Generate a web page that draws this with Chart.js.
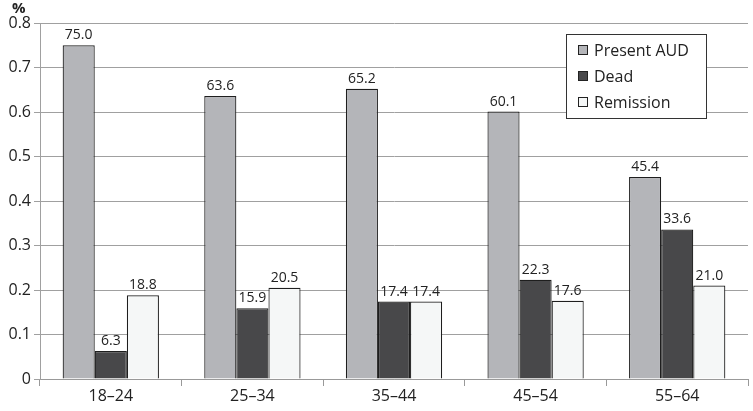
<!DOCTYPE html>
<html>
<head>
<meta charset="utf-8">
<script src="https://cdn.jsdelivr.net/npm/chart.js@4.4.1/dist/chart.umd.min.js"></script>
<style>
  html, body { margin: 0; padding: 0; background: #fff; }
  #wrap { width: 753px; height: 411px; position: relative; }
</style>
</head>
<body>
<div id="wrap"><canvas id="c"></canvas></div>
<script>
// 데이터
const categories = ['18–24', '25–34', '35–44', '45–54', '55–64'];
const presentAUD = [0.750, 0.636, 0.652, 0.601, 0.454];
const dead = [0.063, 0.159, 0.174, 0.223, 0.336];
const remission = [0.188, 0.205, 0.174, 0.176, 0.210];
const yTicks = [0, 0.1, 0.2, 0.3, 0.4, 0.5, 0.6, 0.7, 0.8];

const FONT = '"Open Sans", "Noto Sans", sans-serif';

// 막대 위 값 표시
const valueLabels = {
    id: 'valueLabels',
    afterDatasetsDraw(chart) {
        const ctx = chart.ctx;
        ctx.save();
        ctx.font = '14px ' + FONT;
        ctx.fillStyle = '#222';
        ctx.textAlign = 'center';
        ctx.textBaseline = 'bottom';
        chart.data.datasets.forEach((ds, di) => {
            chart.getDatasetMeta(di).data.forEach((bar, i) => {
                ctx.fillText((ds.data[i] * 100).toFixed(1), bar.x, bar.y - 3);
            });
        });
        ctx.restore();
    }
};

// 범례 박스 (차트 안쪽 우측 상단)
const boxLegend = {
    id: 'boxLegend',
    afterDraw(chart) {
        const ctx = chart.ctx;
        const x = 566, y = 34, w = 140, h = 84;
        ctx.save();
        ctx.fillStyle = '#fff';
        ctx.fillRect(x, y, w, h);
        ctx.strokeStyle = '#333';
        ctx.lineWidth = 1;
        ctx.strokeRect(x + 0.5, y + 0.5, w, h);
        ctx.font = '16px ' + FONT;
        ctx.textBaseline = 'middle';
        chart.data.datasets.forEach((ds, i) => {
            const cy = y + 16 + i * 26;
            ctx.fillStyle = ds.backgroundColor;
            ctx.fillRect(x + 12, cy - 5, 10, 10);
            ctx.strokeStyle = '#222';
            ctx.strokeRect(x + 12.5, cy - 4.5, 9, 9);
            ctx.fillStyle = '#222';
            ctx.textAlign = 'left';
            ctx.fillText(ds.label, x + 28, cy + 1);
        });
        // % 표시
        ctx.font = 'bold 15px ' + FONT;
        ctx.textAlign = 'left';
        ctx.fillText('%', 12, 9);
        ctx.restore();
    }
};

new Chart(document.getElementById('c'), {
    type: 'bar',
    data: {
        labels: categories,
        datasets: [
            { label: 'Present AUD', data: presentAUD, backgroundColor: '#b4b5b9' },
            { label: 'Dead', data: dead, backgroundColor: '#48484a' },
            { label: 'Remission', data: remission, backgroundColor: '#f5f7f7' }
        ].map(d => Object.assign(d, {
            borderColor: '#1e1e1e',
            borderWidth: 1.2,
            barPercentage: 1,
            categoryPercentage: 0.68
        }))
    },
    options: {
        responsive: true,
        maintainAspectRatio: false,
        animation: false,
        layout: { padding: { top: 23, right: 5, left: 0, bottom: 0 } },
        plugins: { legend: { display: false }, tooltip: { enabled: false } },
        scales: {
            x: {
                grid: { drawOnChartArea: false, color: '#999', tickLength: 7, offset: true },
                border: { color: '#999' },
                ticks: { color: '#222', font: { size: 16, family: FONT }, padding: 1 },
                afterFit(s) { s.height = 32; }
            },
            y: {
                min: 0, max: 0.8,
                afterBuildTicks(s) { s.ticks = yTicks.map(v => ({ value: v })); },
                grid: { color: '#a0a0a0', tickLength: 6 },
                border: { color: '#a0a0a0' },
                ticks: {
                    color: '#222',
                    font: { size: 16, family: FONT },
                    padding: 3,
                    callback: v => v === 0 ? '0' : v.toFixed(1)
                },
                afterFit(s) { s.width = 40; }
            }
        }
    },
    plugins: [valueLabels, boxLegend]
});
</script>
</body>
</html>
